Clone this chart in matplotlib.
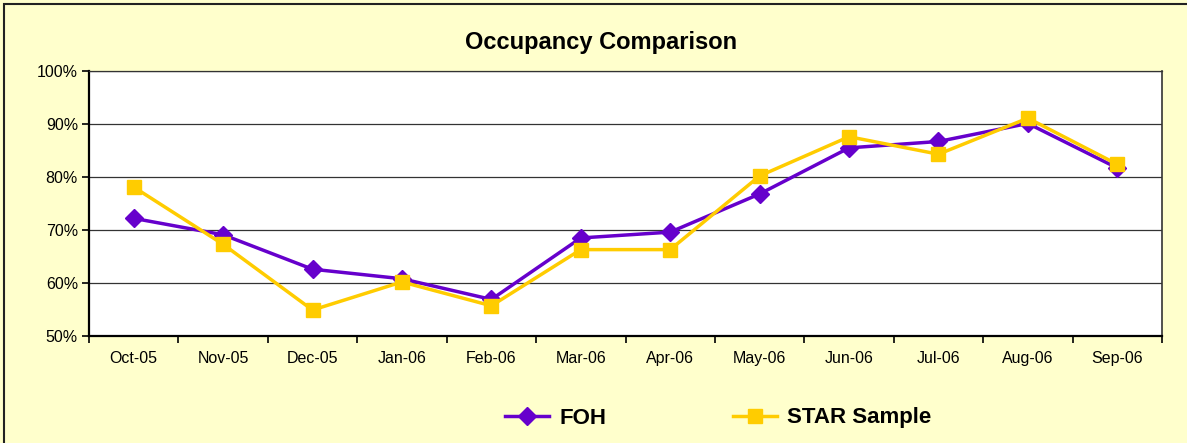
import matplotlib
matplotlib.use("Agg")
import matplotlib.pyplot as plt
from matplotlib.patches import Rectangle
from matplotlib.ticker import FuncFormatter, FixedLocator

months = ["Oct-05", "Nov-05", "Dec-05", "Jan-06", "Feb-06", "Mar-06",
          "Apr-06", "May-06", "Jun-06", "Jul-06", "Aug-06", "Sep-06"]
foh = [72.2, 69.1, 62.6, 60.8, 56.9, 68.5, 69.6, 76.8, 85.5, 86.7, 90.1, 81.7]
star = [78.1, 67.3, 54.9, 60.2, 55.7, 66.3, 66.3, 80.2, 87.6, 84.3, 91.1, 82.4]

plt.rcParams['font.family'] = ['Liberation Sans', 'DejaVu Sans']

fig = plt.figure(figsize=(11.87, 4.43), dpi=100)
fig.patch.set_facecolor('#FFFFCC')
fig.patches.append(Rectangle((4 / 1187, -0.1), 1.2, 1.1 - 4 / 443,
                             transform=fig.transFigure, fill=False,
                             edgecolor='#222222', linewidth=1.5))

ax = fig.add_axes([89 / 1187, 1 - 336 / 443, (1162 - 89) / 1187, (336 - 71) / 443])
ax.set_facecolor('white')

x = list(range(len(months)))
ax.plot(x, foh, color='#6600CC', linewidth=2.5, marker='D', markersize=9,
        label='FOH', zorder=3)
ax.plot(x, star, color='#FFCC00', linewidth=2.5, marker='s', markersize=10,
        label='STAR Sample', zorder=4)

ax.set_xlim(-0.5, len(months) - 0.5)
ax.set_ylim(50, 100)
ax.set_yticks([50, 60, 70, 80, 90, 100])
ax.yaxis.set_major_formatter(FuncFormatter(lambda v, p: f"{v:.0f}%"))
ax.grid(axis='y', color='#333333', linewidth=0.9)
ax.set_axisbelow(True)

ax.set_xticks(x)
ax.set_xticklabels(months)
ax.xaxis.set_minor_locator(FixedLocator([i - 0.5 for i in range(len(months) + 1)]))
ax.tick_params(axis='x', which='major', length=0, pad=11, labelsize=11.5)
ax.tick_params(axis='x', which='minor', length=5, width=1.2, direction='out')
ax.tick_params(axis='y', length=5, width=1.2, labelsize=11.5, pad=3)

for side in ['left', 'bottom']:
    ax.spines[side].set_linewidth(1.6)
    ax.spines[side].set_color('black')
ax.spines['top'].set_color('#333333')
ax.spines['top'].set_linewidth(0.9)
ax.spines['right'].set_color('#333333')
ax.spines['right'].set_linewidth(1.2)

fig.text(601 / 1187, 1 - 42 / 443, 'Occupancy Comparison', ha='center', va='center',
         fontsize=17, fontweight='bold')

leg = fig.legend(loc='center', bbox_to_anchor=(718 / 1187, 1 - 418 / 443), ncol=2,
                 frameon=False, prop={'weight': 'bold', 'size': 16},
                 handlelength=2, columnspacing=5.7, handletextpad=0.45)

fig.savefig('out.png', dpi=100, facecolor=fig.get_facecolor())
